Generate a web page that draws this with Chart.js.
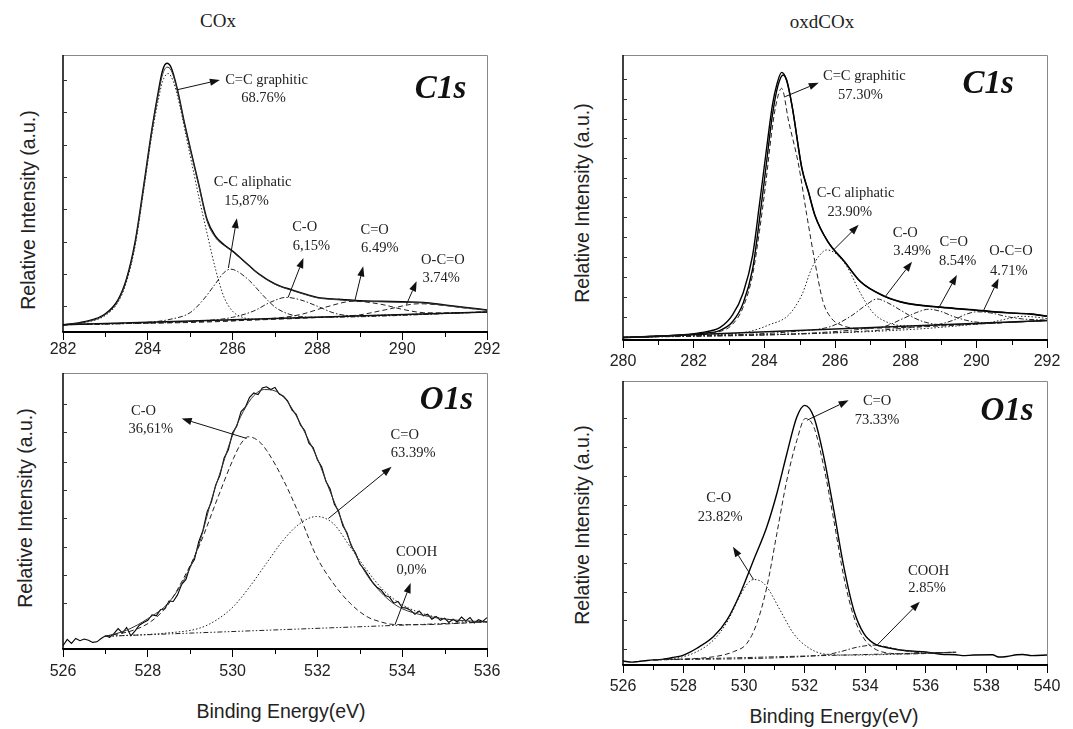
<!DOCTYPE html>
<html><head><meta charset="utf-8">
<script src="https://cdn.jsdelivr.net/npm/chart.js@4.4.1/dist/chart.umd.min.js"></script>
<style>
html,body{margin:0;padding:0;background:#fff;}
body{width:1073px;height:729px;position:relative;overflow:hidden;}
canvas{position:absolute;}
.t{position:absolute;white-space:nowrap;transform:translate(-50%,-50%);color:#222;}
.serif{font-family:"Liberation Serif","Times New Roman",serif;font-size:19px;}
.sans{font-family:"Liberation Sans",Arial,sans-serif;font-size:19.5px;}
.rot{transform:translate(-50%,-50%) rotate(-90deg);}
</style></head><body>
<div class="t serif" style="left:218px;top:21px">COx</div>
<div class="t serif" style="left:822px;top:22px">oxdCOx</div>
<div class="t sans rot" style="left:28px;top:210px">Relative Intensity (a.u.)</div>
<div class="t sans rot" style="left:582px;top:203px">Relative Intensity (a.u.)</div>
<div class="t sans rot" style="left:25px;top:508px">Relative Intensity (a.u.)</div>
<div class="t sans rot" style="left:582px;top:525px">Relative Intensity (a.u.)</div>
<div class="t sans" style="left:281px;top:711px">Binding Energy(eV)</div>
<div class="t sans" style="left:834px;top:716px">Binding Energy(eV)</div>
<canvas id="tl" width="490" height="335" style="left:30px;top:40px"></canvas>
<canvas id="tr" width="480" height="345" style="left:590px;top:40px"></canvas>
<canvas id="bl" width="490" height="330" style="left:30px;top:360px"></canvas>
<canvas id="br" width="480" height="335" style="left:590px;top:368px"></canvas>
<script>
// ---------- C1s, COx (top left) ----------
const tlEnergy = [282,282.5,283,283.3,283.5,283.7,283.9,284.1,284.25,284.35,284.45,284.55,284.7,284.85,285.0,285.2,285.4,285.6,285.8,286.0,286.3,286.6,287.0,287.4,287.8,288.0,288.5,289.0,289.5,290.0,290.5,291.0,291.5,292.0];
const tlRaw = [2.6,3.7,6.6,11.7,19.3,32.5,52.5,73.5,87,94.5,97.0,95.5,87.5,76.5,66.5,53.5,40.5,34.5,31.5,29.2,25.2,21.2,17.4,15.2,13.3,12.5,11.8,11.3,11.1,10.9,10.7,9.8,8.9,8.0];
const tlFit = [2.6,3.5,6.3,11.3,18.8,31.8,51.8,72.8,86,93,95.6,94.5,87,76,66,53,40,34,31.2,29.0,25.0,21.0,17.2,15.0,13.1,12.3,11.6,11.1,10.9,10.7,10.5,9.6,8.7,7.8];
const tlGraphE = [282,282.5,283,283.3,283.5,283.7,283.9,284.1,284.25,284.35,284.48,284.6,284.75,284.9,285.05,285.2,285.4,285.6,285.8,286.0,286.2,286.5,287.0,288.0,290.0,292.0];
const tlGraph = [2.6,3.4,6.0,10.8,18.2,31,50.8,71.5,84,90.5,93.3,90.5,82,71,60,49,35.5,22.5,12.5,7.5,5.5,4.6,4.9,5.4,6.3,7.2];
const tlAliE = [282,284.0,284.5,285.0,285.3,285.6,285.8,285.95,286.1,286.4,286.7,287.0,287.3,287.6,288.0,292];
const tlAli = [2.6,3.5,4.5,7.0,11.5,17.5,21.5,22.7,22.0,18.5,13.5,9.0,6.6,5.6,5.3,7.2];
const tlCOE = [282,285.5,286.0,286.5,286.9,287.27,287.6,288.0,288.4,288.8,292];
const tlCO = [2.6,4.3,5.3,7.6,10.8,12.5,11.6,9.3,6.8,5.9,7.2];
const tlCdOE = [282,287.0,287.6,288.2,288.85,289.5,290.0,290.5,291.0,292];
const tlCdO = [2.6,5.0,6.3,9.0,11.1,10.0,8.2,7.0,6.9,7.2];
const tlOCOE = [282,288.5,289.0,289.6,290.4,291.0,291.5,292];
const tlOCO = [2.6,5.6,6.2,8.0,10.2,9.6,8.6,8.0];
const tlBaseE = [282,292];
const tlBase = [2.6,7.2];
const tlYTicks = [9.3,21,32.6,44.3,56,67.6,79.3,91];
const tlLabels = [['C=C graphitic',286.8,91.0],['68.76%',286.73,84.4],['C-C aliphatic',286.47,54.0],['15,87%',286.33,47.4],['C-O',287.7,37.7],['6,15%',287.86,31.1],['C=O',289.35,36.9],['6.49%',289.47,30.3],['O-C=O',290.96,26.1],['3.74%',290.92,19.5]];
const tlArrows = [[284.68,87.4,285.7,91.0],[285.9,23.1,286.1,41.1],[287.31,12.5,287.67,26.7],[288.88,11.1,289.08,23.7],[290.1,9.9,290.34,18.3]];
const tlTag = ['C1s',291.51,87.4];

// ---------- C1s, oxdCOx (top right) ----------
const trEnergy = [280,281.4,282.2,282.75,283.1,283.4,283.67,283.86,284.04,284.23,284.35,284.49,284.62,284.78,285.06,285.25,285.43,285.8,286.27,286.72,287.38,288.04,288.98,289.92,290.87,291.5,292];
const trRaw = [0.9,1.6,2.6,4.4,8.8,16.5,29.8,47.4,64.9,82.5,89.5,93.9,91.5,82.5,60.5,52,43.9,34.5,27.5,20.5,15.5,12.9,11.6,10.6,9.6,9.2,8.4];
const trFitE = [280,281.4,282.2,282.75,283.1,283.4,283.67,283.86,284.04,284.23,284.38,284.53,284.65,284.8,285.06,285.25,285.43,285.8,286.27,286.72,287.38,288.04,288.98,289.92,290.87,291.5,292];
const trFit = [0.9,1.5,2.3,3.4,6.4,12.9,25,42,60,79,89,93.0,90.5,81,60.3,51.8,43.7,34.4,27.4,20.4,15.4,12.8,11.5,10.5,9.5,9.1,8.3];
const trGraphE = [280,282.2,282.75,283.1,283.4,283.67,283.86,284.04,284.2,284.32,284.49,284.69,284.97,285.2,285.43,285.66,285.9,286.17,286.6,292];
const trGraph = [0.9,2.2,3.0,5.5,11.5,23,38,55,72,82,88.3,76.6,61.4,43.9,27.5,13.5,7.6,5.3,4.1,6.8];
const trAliE = [280,283.0,283.58,284.13,284.69,285.06,285.34,285.55,285.76,286.0,286.34,286.72,287.09,287.57,288.0,292];
const trAli = [0.9,2.1,3.0,5.3,8.8,15.8,25.1,29.5,31.6,30.5,25.7,16.4,9.4,5.8,5.0,6.8];
const trCOE = [280,285.3,285.87,286.43,286.85,287.19,287.5,287.85,288.2,288.51,289,292];
const trCO = [0.9,3.5,4.7,8.2,12,14.4,13,10.5,8,6.4,5.4,6.8];
const trCdOE = [280,287.3,287.94,288.3,288.65,289.0,289.36,289.92,290.4,292];
const trCdO = [0.9,4.5,7.6,9.6,10.8,10.0,8.2,6.4,6.1,6.8];
const trOCOE = [280,288.8,289.36,289.7,290.02,290.4,290.87,291.3,292];
const trOCO = [0.9,5.2,7.0,9.0,9.9,9.5,8.2,7.4,7.0];
const trTailE = [280,290.3,290.9,291.3,291.7,292];
const trTail = [0.9,6.0,7.5,8.3,8.0,7.5];
const trBaseE = [280,292];
const trBase = [0.9,6.8];
const trYTicks = [8.2,15.2,22.2,29.1,36.0,43.0,50.1,57.0,63.9,70.8,77.7,84.6,91.6];
const trLabels = [['C=C graphitic',286.83,92.4],['57.30%',286.72,86.0],['C-C aliphatic',286.58,51.5],['23.90%',286.42,45.0],['C-O',287.99,37.4],['3.49%',288.18,31.3],['C=O',289.36,34.2],['8.54%',289.47,27.8],['O-C=O',290.98,31.0],['4.71%',290.92,24.3]];
const trArrows = [[284.59,85.4,285.54,90.3],[285.96,31.6,286.67,40.4],[287.42,15.2,288.18,27.5],[288.93,11.1,289.45,22.8],[290.21,10.5,290.63,21.6]];
const trTag = ['C1s',291.06,89.5];

// ---------- O1s, COx (bottom left) ----------
const blRawE = [526.0,526.1,526.2,526.3,526.4,526.5,526.6,526.7,526.8,526.9,527.0,527.1,527.2,527.3,527.4,527.5,527.6,527.7,527.8,527.9,528.0,528.1,528.2,528.3,528.4,528.5,528.6,528.7,528.8,528.9,529.0,529.1,529.2,529.3,529.4,529.5,529.6,529.7,529.8,529.9,530.0,530.1,530.2,530.3,530.4,530.5,530.6,530.7,530.8,530.9,531.0,531.1,531.2,531.3,531.4,531.5,531.6,531.7,531.8,531.9,532.0,532.1,532.2,532.3,532.4,532.5,532.6,532.7,532.8,532.9,533.0,533.1,533.2,533.3,533.4,533.5,533.6,533.7,533.8,533.9,534.0,534.1,534.2,534.3,534.4,534.5,534.6,534.7,534.8,534.9,535.0,535.1,535.2,535.3,535.4,535.5,535.6,535.7,535.8,535.9,536.0];
const blRaw = [1.2,3.5,2.0,3.8,3.0,3.6,3.2,2.4,2.6,3.8,4.8,4.2,5.6,7.4,5.8,7.8,4.8,6.6,8.6,9.6,10.4,12.4,12.0,14.2,14.6,17.4,17.2,19.6,23.4,25.2,30.0,32.4,38.8,43.0,49.8,53.2,59.4,62.8,69.2,72.2,78.4,80.8,86.0,87.6,91.2,92.8,92.2,94.6,95.0,94.0,94.8,92.4,91.6,89.8,86.6,85.0,81.2,79.2,74.6,73.0,68.6,66.0,60.8,58.0,52.4,50.0,44.6,42.0,37.2,34.8,30.8,29.0,26.6,24.2,22.4,21.4,19.4,18.8,16.6,17.2,15.0,14.8,14.0,12.6,13.8,12.0,12.6,10.8,11.8,10.4,11.2,9.6,10.8,9.8,11.6,10.2,11.4,9.4,10.6,10.0,11.4];
const blFitE = [527,527.5,528,528.5,529,529.25,529.5,529.75,530,530.25,530.5,530.75,531,531.25,531.5,531.75,532,532.25,532.5,532.75,533,533.25,533.5,533.75,534,534.5,535,535.5,536];
const blFit = [4.6,6.8,11.0,17.0,29.5,40,54,66,77.5,86,91.8,94,93.5,90.5,84.5,77,69,59,49.4,39.6,31.2,25,20.5,17,14.6,12.2,10.9,10.2,9.9];
const blCOE = [527.0,527.66,528.06,528.45,528.84,529.23,529.63,530.02,530.2,530.37,530.6,530.8,531.2,531.59,531.98,532.37,532.77,533.16,533.5,533.79,534.34,536];
const blCO = [4.6,6.8,9.8,15.5,25.5,38,54,69,74.5,76.9,75.5,72.0,61.2,48.0,33.5,23.9,16.6,11.8,9.8,8.9,8.8,9.8];
const blCdOE = [527.0,528.45,529.23,529.63,530.02,530.41,530.8,531.2,531.59,531.98,532.37,532.77,533.16,533.55,533.94,534.34,534.73,535.12,535.51,536];
const blCdO = [4.6,5.8,7.6,10.6,15.4,22.7,31.1,39.5,45.5,48.0,45.5,37.1,28.7,21.4,16.6,13.6,11.8,10.6,10.0,9.8];
const blBaseE = [527,536];
const blBase = [4.6,9.8];
const blYTicks = [16.6,26.9,37.1,47.3,57.6,67.8,78.7,88.9];
const blLabels = [['C-O',527.9,86.3],['36,61%',528.07,79.5],['C=O',534.06,77.5],['63.39%',534.26,70.8],['COOH',534.34,34.9],['0,0%',534.22,28.7]];
const blArrows = [[530.33,76.3,528.8,83.5],[532.26,47.3,533.75,66.0],[533.83,8.8,534.2,23.9]];
const blTag = ['O1s',535.67,90.1];

// ---------- O1s, oxdCOx (bottom right) ----------
const brEnergy = [526,526.3,526.5,526.8,527.0,527.3,527.67,528.0,528.44,528.99,529.43,529.87,530.31,530.75,531.08,531.41,531.74,532.0,532.3,532.63,532.96,533.29,533.62,533.95,534.28,534.83,535.38,536.0,536.5,537.0,537.2,537.58,538.2,538.4,538.68,539.0,539.2,539.5,540];
const brRaw = [1.4,1.0,1.2,1.6,1.8,2.0,2.7,3.5,5.9,10.0,15.8,25.2,36.9,48.7,60.4,74.4,87.3,91.4,87.3,73.3,54.5,34.6,19.3,11.1,7.6,5.9,5.0,4.6,3.8,3.6,3.3,3.5,3.6,2.8,3.0,3.6,3.7,3.3,3.5];
const brCdOE = [527,528.99,529.65,530.09,530.42,530.75,531.08,531.41,531.74,532.02,532.3,532.63,532.96,533.29,533.62,533.95,534.28,534.83,535.38,537];
const brCdO = [1.8,2.9,4.7,7.6,14.7,27.5,46.3,65.1,79.1,86.8,83.8,69.8,51.0,31.1,17.0,9.4,5.9,4.1,3.9,4.5];
const brCOE = [527.0,527.89,528.44,528.99,529.43,529.87,530.1,530.31,530.55,530.75,531.19,531.63,532.08,532.63,533.5,537];
const brCO = [1.8,2.7,4.7,8.8,15.0,24.5,28.5,30.1,29.5,27.5,19.3,11.1,6.4,3.9,3.5,4.5];
const brCOOHE = [527,532.63,533.18,533.7,534.28,534.7,535.16,535.93,537];
const brCOOH = [1.8,3.5,4.7,6.2,7.0,6.4,5.3,4.3,4.5];
const brBaseE = [527,537];
const brBase = [1.8,4.5];
const brYTicks = [5.5,15.8,25.8,36.0,46.3,56.5,66.6,76.8,87.1];
const brLabels = [['C=O',534.39,93.0],['73.33%',534.39,86.2],['C-O',529.16,58.6],['23.82%',529.21,52.2],['COOH',536.09,33.2],['2.85%',536.04,27.0]];
const brArrows = [[532.08,86.2,533.45,93.2],[530.31,30.1,529.63,41.6],[534.39,7.0,535.8,22.3]];
const brTag = ['O1s',539.56,89.1];

// ---------- styles ----------
const STY = {
  raw:{borderColor:'#000',borderWidth:1.4},
  noisy:{borderColor:'#000',borderWidth:1.1,cubicInterpolationMode:'default',tension:0},
  fit:{borderColor:'#333',borderWidth:1},
  dot:{borderColor:'#222',borderWidth:1,borderDash:[1.5,2]},
  dash:{borderColor:'#222',borderWidth:1,borderDash:[5,3]},
  dashdot:{borderColor:'#222',borderWidth:1,borderDash:[5,2,1.5,2]},
  dashdotdot:{borderColor:'#222',borderWidth:1,borderDash:[5,2,1.5,2,1.5,2]},
  base:{borderColor:'#111',borderWidth:1.5}
};
function pts(xs, ys){ return xs.map((x,i)=>({x:x, y:ys[i]})); }
function ds(xs, ys, style){
  return Object.assign({data:pts(xs,ys), pointRadius:0, fill:false, cubicInterpolationMode:'monotone'}, style);
}

const xpsDecor = {
  id:'xpsDecor',
  afterDatasetsDraw(chart, args, o){
    const ctx = chart.ctx, a = chart.chartArea, x = chart.scales.x, y = chart.scales.y;
    ctx.save();
    ctx.setLineDash([]);
    // frame
    ctx.strokeStyle = '#888'; ctx.lineWidth = 1;
    ctx.beginPath(); ctx.moveTo(a.left, a.top+0.5); ctx.lineTo(a.right+0.5, a.top+0.5); ctx.lineTo(a.right+0.5, a.bottom); ctx.stroke();
    ctx.strokeStyle = '#000'; ctx.lineWidth = 1.5;
    ctx.beginPath(); ctx.moveTo(a.left, a.top); ctx.lineTo(a.left, a.bottom); ctx.stroke();
    ctx.lineWidth = 2;
    ctx.beginPath(); ctx.moveTo(a.left-0.75, a.bottom); ctx.lineTo(a.right+1, a.bottom); ctx.stroke();
    // minor x ticks
    ctx.lineWidth = 1;
    for (let v = Math.ceil(x.min); v <= x.max; v++) {
      if (v % 2) {
        const px = Math.round(x.getPixelForValue(v)) + 0.5;
        ctx.beginPath(); ctx.moveTo(px, a.bottom); ctx.lineTo(px, a.bottom+5); ctx.stroke();
      }
    }
    // y ticks (inside)
    ctx.strokeStyle = '#333';
    o.yTicks.forEach(v => {
      const py = Math.round(y.getPixelForValue(v)) + 0.5;
      ctx.beginPath(); ctx.moveTo(a.left, py); ctx.lineTo(a.left+4, py); ctx.stroke();
    });
    // arrows
    ctx.strokeStyle = '#111'; ctx.fillStyle = '#111'; ctx.lineWidth = 1;
    o.arrows.forEach(r => {
      const x1 = x.getPixelForValue(r[0]), y1 = y.getPixelForValue(r[1]);
      const x2 = x.getPixelForValue(r[2]), y2 = y.getPixelForValue(r[3]);
      const ang = Math.atan2(y2-y1, x2-x1), L = 10, W = 3.6;
      const bx = x2 - L*Math.cos(ang), by = y2 - L*Math.sin(ang);
      ctx.beginPath(); ctx.moveTo(x1, y1); ctx.lineTo(bx, by); ctx.stroke();
      ctx.beginPath();
      ctx.moveTo(x2, y2);
      ctx.lineTo(bx + W*Math.sin(ang), by - W*Math.cos(ang));
      ctx.lineTo(bx - W*Math.sin(ang), by + W*Math.cos(ang));
      ctx.closePath(); ctx.fill();
    });
    // labels
    ctx.font = '14.5px "Liberation Serif", "Times New Roman", serif';
    ctx.fillStyle = '#222'; ctx.textAlign = 'center'; ctx.textBaseline = 'middle';
    o.labels.forEach(l => ctx.fillText(l[0], x.getPixelForValue(l[1]), y.getPixelForValue(l[2])));
    // panel tag
    ctx.font = 'italic bold 33px "Liberation Serif", "Times New Roman", serif';
    ctx.fillStyle = '#111'; ctx.textAlign = 'right';
    ctx.fillText(o.tag[0], x.getPixelForValue(o.tag[1]), y.getPixelForValue(o.tag[2]));
    ctx.restore();
  }
};

function makeChart(id, cfg){
  return new Chart(document.getElementById(id), {
    type:'line',
    data:{datasets:cfg.datasets},
    options:{
      responsive:false, animation:false, devicePixelRatio:1,
      layout:{padding:cfg.pad},
      plugins:{legend:{display:false}, tooltip:{enabled:false}, xpsDecor:cfg.decor},
      elements:{point:{radius:0}},
      scales:{
        x:{type:'linear', min:cfg.xmin, max:cfg.xmax,
           ticks:{stepSize:2, padding:cfg.tickPad, color:'#222', autoSkip:false, maxRotation:0,
                  font:{family:'"Liberation Sans", Arial, sans-serif', size:16},
                  callback:v => String(v)},
           grid:{display:true, drawOnChartArea:false, drawTicks:true, tickLength:8, color:'#000', lineWidth:1},
           border:{display:false},
           afterFit:s => { s.height = cfg.xh; }},
        y:{type:'linear', min:0, max:100, display:false}
      }
    },
    plugins:[xpsDecor]
  });
}

makeChart('tl', {
  xmin:282, xmax:292, pad:{left:33, top:15, right:33, bottom:0}, xh:43, tickPad:0,
  decor:{yTicks:tlYTicks, labels:tlLabels, arrows:tlArrows, tag:tlTag},
  datasets:[
    ds(tlBaseE, tlBase, STY.base),
    ds(tlOCOE, tlOCO, STY.dash),
    ds(tlCdOE, tlCdO, STY.dash),
    ds(tlCOE, tlCO, STY.dashdot),
    ds(tlAliE, tlAli, STY.dashdot),
    ds(tlGraphE, tlGraph, STY.dot),
    ds(tlEnergy, tlFit, STY.fit),
    ds(tlEnergy, tlRaw, STY.raw)
  ]
});
makeChart('tr', {
  xmin:280, xmax:292, pad:{left:33, top:15, right:23, bottom:0}, xh:45, tickPad:4,
  decor:{yTicks:trYTicks, labels:trLabels, arrows:trArrows, tag:trTag},
  datasets:[
    ds(trBaseE, trBase, STY.base),
    ds(trTailE, trTail, STY.dot),
    ds(trOCOE, trOCO, STY.dashdot),
    ds(trCdOE, trCdO, STY.dashdot),
    ds(trCOE, trCO, STY.dashdot),
    ds(trAliE, trAli, STY.dot),
    ds(trGraphE, trGraph, STY.dash),
    ds(trFitE, trFit, STY.raw),
    ds(trEnergy, trRaw, STY.raw)
  ]
});
makeChart('bl', {
  xmin:526, xmax:536, pad:{left:33, top:13, right:33, bottom:0}, xh:41, tickPad:5,
  decor:{yTicks:blYTicks, labels:blLabels, arrows:blArrows, tag:blTag},
  datasets:[
    ds(blBaseE, blBase, STY.dashdotdot),
    ds(blCdOE, blCdO, STY.dot),
    ds(blCOE, blCO, STY.dash),
    ds(blFitE, blFit, STY.fit),
    ds(blRawE, blRaw, STY.noisy)
  ]
});
makeChart('br', {
  xmin:526, xmax:540, pad:{left:33, top:13, right:23, bottom:0}, xh:38, tickPad:4,
  decor:{yTicks:brYTicks, labels:brLabels, arrows:brArrows, tag:brTag},
  datasets:[
    ds(brBaseE, brBase, STY.dashdot),
    ds(brCOOHE, brCOOH, STY.dashdot),
    ds(brCOE, brCO, STY.dot),
    ds(brCdOE, brCdO, STY.dash),
    ds(brEnergy, brRaw, STY.raw)
  ]
});
</script>
</body></html>
